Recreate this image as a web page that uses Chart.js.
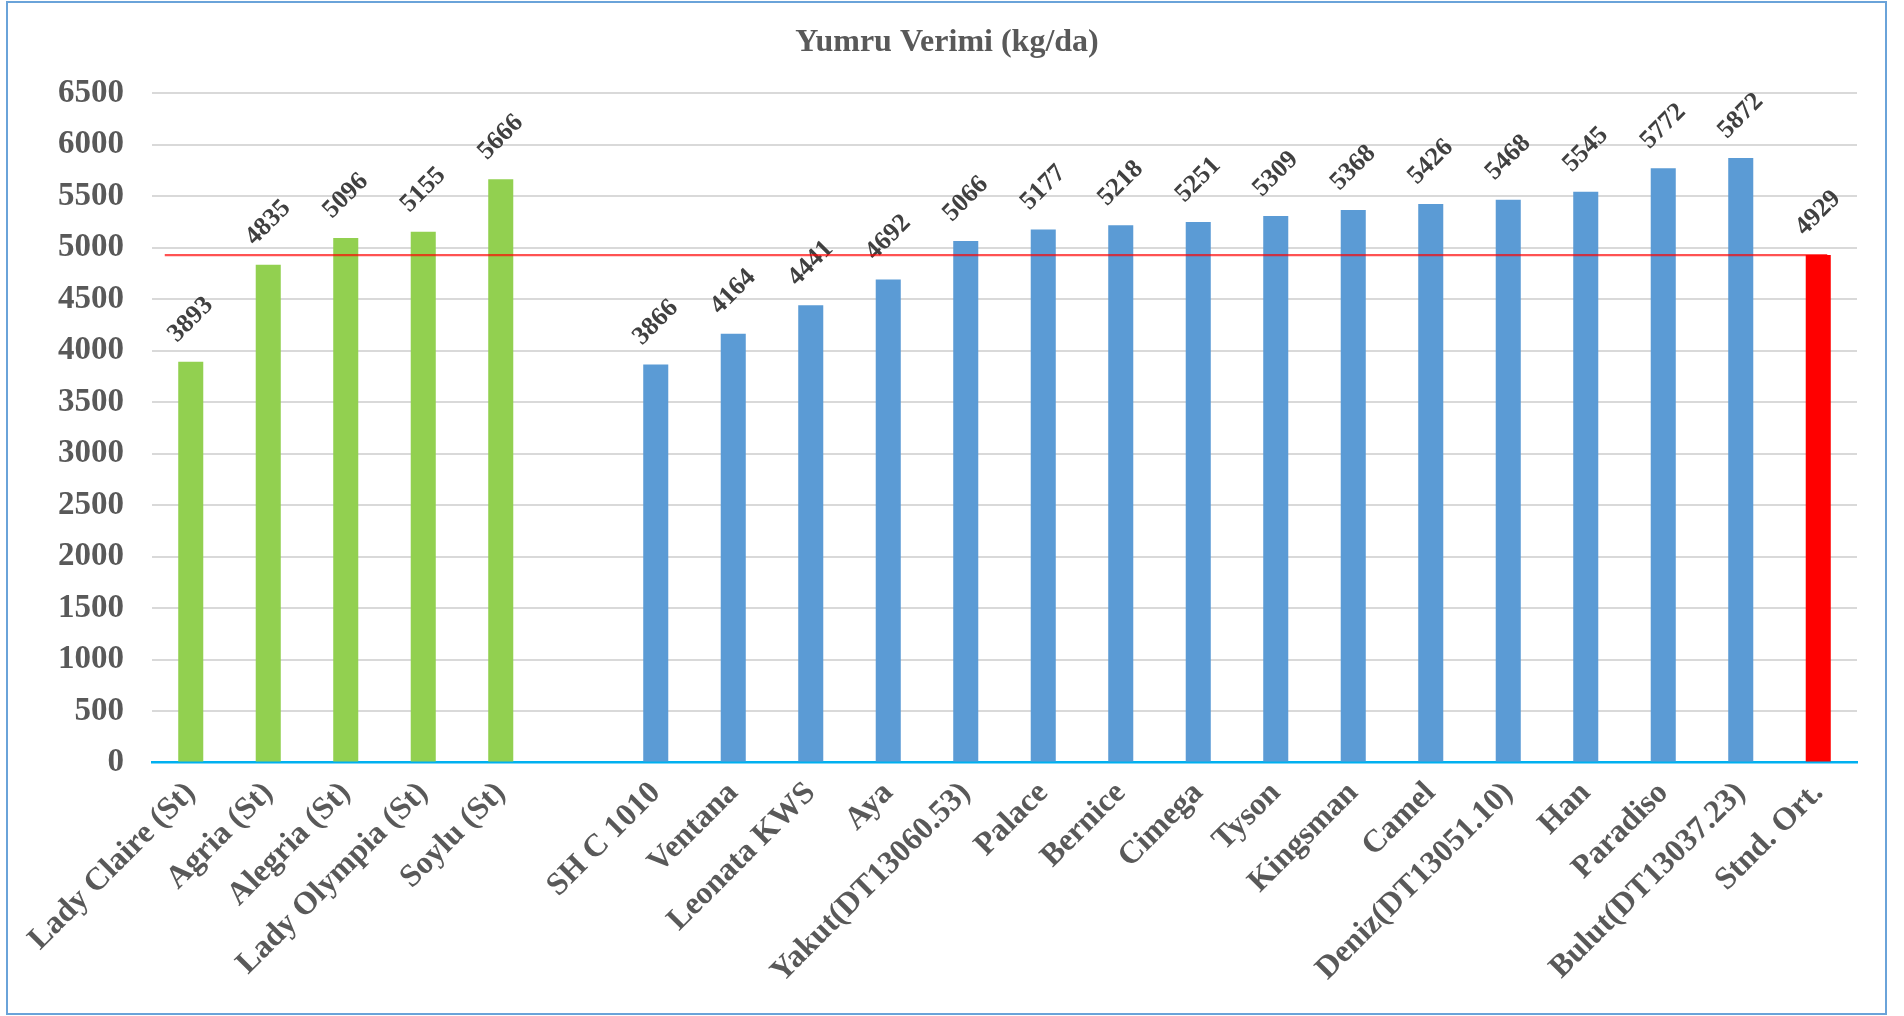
<!DOCTYPE html>
<html>
<head>
<meta charset="utf-8">
<title>Yumru Verimi</title>
<script src="https://cdn.jsdelivr.net/npm/chart.js@4.4.1/dist/chart.umd.min.js"></script>
<style>
	body { margin: 0; background: #fff; }
	#kutu { position: relative; width: 1904px; height: 1016px; }
	#cerceve {
		position: absolute; left: 6px; top: 1px; width: 1881px; height: 1014px;
		border: 2px solid #6aa3d9; box-sizing: border-box; pointer-events: none;
	}
</style>
</head>
<body>
<div id="kutu">
	<canvas id="grafik" width="1904" height="1016"></canvas>
	<div id="cerceve"></div>
</div>
<script>
// standart cesitler (yesil)
var standartlar = ['Lady Claire (St)', 'Agria (St)', 'Alegria (St)', 'Lady Olympia (St)', 'Soylu (St)'];
var standartVerim = [3893, 4835, 5096, 5155, 5666];

// aday cesitler (mavi)
var adaylar = ['SH C 1010', 'Ventana', 'Leonata KWS', 'Aya', 'Yakut(DT13060.53)', 'Palace', 'Bernice',
	'Cimega', 'Tyson', 'Kingsman', 'Camel', 'Deniz(DT13051.10)', 'Han', 'Paradiso', 'Bulut(DT13037.23)'];
var adayVerim = [3866, 4164, 4441, 4692, 5066, 5177, 5218, 5251, 5309, 5368, 5426, 5468, 5545, 5772, 5872];

// standart ortalamasi (kirmizi)
var ortalamaEtiket = 'Stnd. Ort.';
var ortalama = 4929;

var yEksen = { min: 0, max: 6500, adim: 500 };

var etiketler = standartlar.concat([''], adaylar, [ortalamaEtiket]);
var degerler = standartVerim.concat([null], adayVerim, [ortalama]);
var renkler = standartVerim.map(() => '#92d050')
	.concat(['#ffffff'], adayVerim.map(() => '#5b9bd5'), ['#ff0000']);

Chart.defaults.font.family = "'Liberation Serif', 'Times New Roman', serif";

var degerEtiketleri = {
	id: 'degerEtiketleri',
	afterDatasetsDraw(chart) {
		let ctx = chart.ctx;
		let meta = chart.getDatasetMeta(0);
		let veri = chart.data.datasets[0].data;
		ctx.save();
		ctx.font = "bold 26px 'Liberation Serif'";
		ctx.fillStyle = '#404040';
		ctx.textAlign = 'center';
		ctx.textBaseline = 'middle';
		meta.data.forEach(function (bar, i) {
			if (veri[i] == null) return;
			ctx.save();
			ctx.translate(bar.x, bar.y - 42);
			ctx.rotate(-Math.PI / 4);
			ctx.fillText(veri[i], 0, 0);
			ctx.restore();
		});
		ctx.restore();
	}
};

// ortalama cizgisi
var ortalamaCizgisi = {
	id: 'ortalamaCizgisi',
	afterDatasetsDraw(chart) {
		let ctx = chart.ctx;
		let x = chart.scales.x, y = chart.scales.y;
		let py = y.getPixelForValue(ortalama);
		ctx.save();
		ctx.strokeStyle = 'rgba(255, 0, 0, 0.68)';
		ctx.lineWidth = 2.3;
		ctx.beginPath();
		ctx.moveTo(x.getPixelForValue(0) - 26, py);
		ctx.lineTo(x.getPixelForValue(etiketler.length - 1) + 9, py);
		ctx.stroke();
		ctx.restore();
	}
};

let ctx = document.getElementById('grafik').getContext('2d');
let chart = new Chart(ctx, {
	type: 'bar',
	data: {
		labels: etiketler,
		datasets: [{
			label: 'Yumru Verimi',
			data: degerler,
			backgroundColor: renkler,
			barPercentage: 0.323,
			categoryPercentage: 1
		}]
	},
	options: {
		responsive: false,
		animation: false,
		layout: { padding: { top: 0, left: 37, right: 47, bottom: 0 } },
		plugins: {
			legend: { display: false },
			tooltip: { enabled: false },
			title: {
				display: true,
				text: 'Yumru Verimi (kg/da)',
				color: '#595959',
				font: { size: 32, weight: 'bold' },
				padding: { top: 24, bottom: 31 }
			}
		},
		scales: {
			x: {
				grid: { display: false, drawTicks: false },
				border: { display: true, color: '#00b0f0', width: 2.5 },
				ticks: {
					autoSkip: false,
					maxRotation: 45,
					minRotation: 45,
					padding: 12,
					color: '#595959',
					font: { size: 32, weight: 'bold' }
				},
				afterFit: function (s) { s.height = 253.5; }
			},
			y: {
				min: yEksen.min,
				max: yEksen.max,
				grid: {
					drawTicks: false,
					lineWidth: 2,
					color: c => c.tick && c.tick.value === 0 ? 'rgba(0,0,0,0)' : '#d9d9d9'
				},
				border: { display: false },
				ticks: {
					stepSize: yEksen.adim,
					padding: 28,
					color: '#595959',
					font: { size: 33, weight: 'bold' },
					callback: v => String(v)
				},
				afterFit: function (s) { s.width = 115; }
			}
		}
	},
	plugins: [degerEtiketleri, ortalamaCizgisi]
});
</script>
</body>
</html>
